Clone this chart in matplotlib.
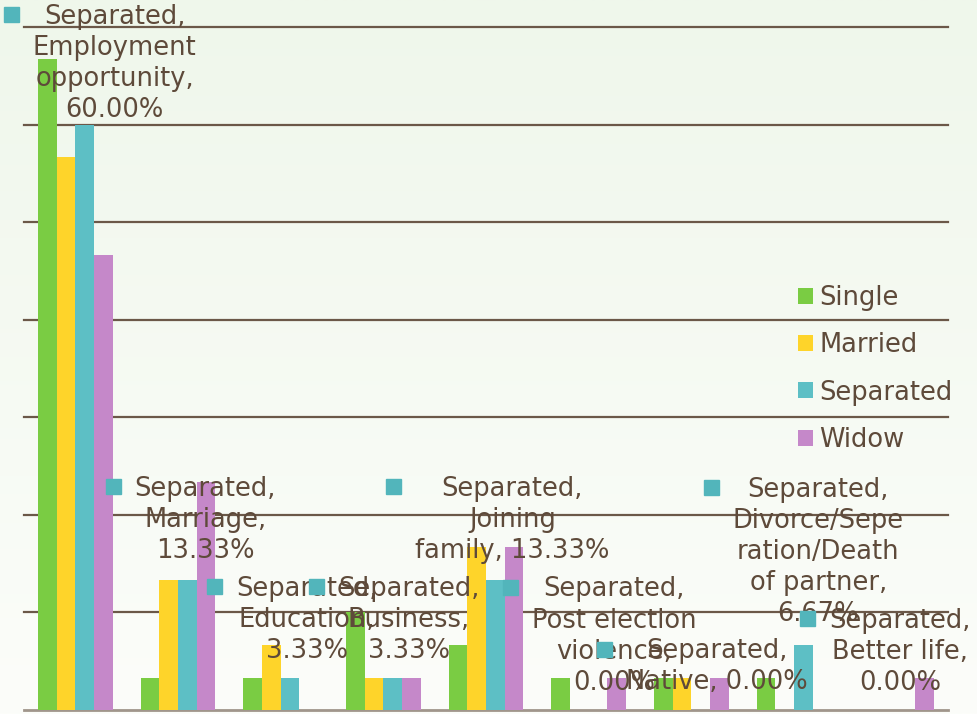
import numpy as np
import matplotlib
matplotlib.use('Agg')
import matplotlib.pyplot as plt
from matplotlib.colors import LinearSegmentedColormap
from matplotlib.patches import Patch, Rectangle

# ==================== data ====================
CATEGORIES = ['Employment opportunity', 'Marriage', 'Education', 'Business',
              'Joining family', 'Post election violence', 'Native',
              'Divorce/Seperation/Death of partner', 'Better life']
SERIES = ['Single', 'Married', 'Separated', 'Widow']
SINGLE = [66.67, 3.33, 3.33, 10.00, 6.67, 3.33, 3.33, 3.33, 0.00]
MARRIED = [56.67, 13.33, 6.67, 3.33, 16.67, 0.00, 3.33, 0.00, 0.00]
SEPARATED = [60.00, 13.33, 3.33, 3.33, 13.33, 0.00, 0.00, 6.67, 0.00]
WIDOW = [46.67, 23.33, 0.00, 3.33, 16.67, 3.33, 3.33, 0.00, 3.33]
# category names as they wrap inside the data labels
LABEL_NAMES = ['Employment\nopportunity,\n', 'Marriage,\n', 'Education,\n',
               'Business,\n', 'Joining\nfamily, ', 'Post election\nviolence,\n',
               'Native, ', 'Divorce/Sepe\nration/Death\nof partner,\n',
               'Better life,\n']

# ==================== style ====================
COLORS = ['#7ACC43', '#FED42A', '#5DBFC5', '#C588C9']
KEY_TEAL = '#52B5BB'
TEXT = '#5E4A3A'
GRID = '#6B5848'
FS = 18.5
FS_PX = FS * 100 / 72
BAR_W = 0.182
# label block offsets (pixels) from the top of each Separated bar
LABEL_OFFSETS = [(30, 61), (18, 60), (17, 58), (16, 58), (17, 60),
                 (16, 74), (16, 43), (15, 93), (-6, 58)]

plt.rcParams['font.family'] = 'DejaVu Sans'

fig = plt.figure(figsize=(9.78, 7.14), dpi=100)

# soft background gradient
bg = fig.add_axes([0, 0, 1, 1], zorder=-10)
cmap = LinearSegmentedColormap.from_list('bg', ['#EFF7EB', '#FCFDFA'])
bg.imshow(np.linspace(0, 1, 256).reshape(-1, 1), aspect='auto', cmap=cmap,
          extent=[0, 1, 0, 1], origin='upper')
bg.set_axis_off()

ax = fig.add_axes([24 / 978, 4 / 714, 924 / 978, 683 / 714])
ax.patch.set_alpha(0)

x = np.arange(len(CATEGORIES))
for j, (vals, col) in enumerate(zip([SINGLE, MARRIED, SEPARATED, WIDOW], COLORS)):
    ax.bar(x + (j - 1.5) * BAR_W, vals, BAR_W, color=col, zorder=3)

ax.set_xlim(-0.5, len(CATEGORIES) - 0.5)
ax.set_ylim(0, 70)
ax.set_yticks(np.arange(10, 71, 10))
for yv in ax.get_yticks():
    ax.axhline(yv, color=GRID, lw=1.6, zorder=1, clip_on=False)
ax.tick_params(length=0, labelleft=False, labelbottom=False)
for s in ['left', 'top', 'right']:
    ax.spines[s].set_visible(False)
ax.spines['bottom'].set_color('#A0958B')
ax.spines['bottom'].set_linewidth(2)

# data labels for the Separated series
labels = []
for i, (name, v, (dx, dy)) in enumerate(zip(LABEL_NAMES, SEPARATED, LABEL_OFFSETS)):
    txt = 'Separated,\n' + name + f'{v:.2f}%'
    t = ax.annotate(txt, xy=(x[i] + 0.5 * BAR_W, v), xytext=(dx, dy),
                    textcoords='offset pixels', ha='center', va='center',
                    multialignment='center', fontsize=FS, color=TEXT,
                    linespacing=1.25, zorder=5, annotation_clip=False)
    labels.append(t)

fig.canvas.draw()
renderer = fig.canvas.get_renderer()
inv = fig.transFigure.inverted()
for t in labels:
    bb = t.get_window_extent(renderer)
    size = 15
    x0 = bb.x0 - 14 - size
    yc = bb.y1 - 0.42 * FS_PX
    (fx, fy) = inv.transform((x0, yc - size / 2))
    (fx2, fy2) = inv.transform((x0 + size, yc + size / 2))
    fig.add_artist(Rectangle((fx, fy), fx2 - fx, fy2 - fy, color=KEY_TEAL,
                             transform=fig.transFigure, zorder=6))

handles = [Patch(facecolor=c) for c in COLORS]
fig.legend(handles, SERIES, loc='center left',
           bbox_to_anchor=(798 / 978, 1 - 369 / 714), frameon=False,
           fontsize=FS, handlelength=0.58, handleheight=0.58,
           handletextpad=0.25, labelspacing=0.82, borderpad=0,
           borderaxespad=0, labelcolor=TEXT)

fig.savefig('out.png', dpi=100)
